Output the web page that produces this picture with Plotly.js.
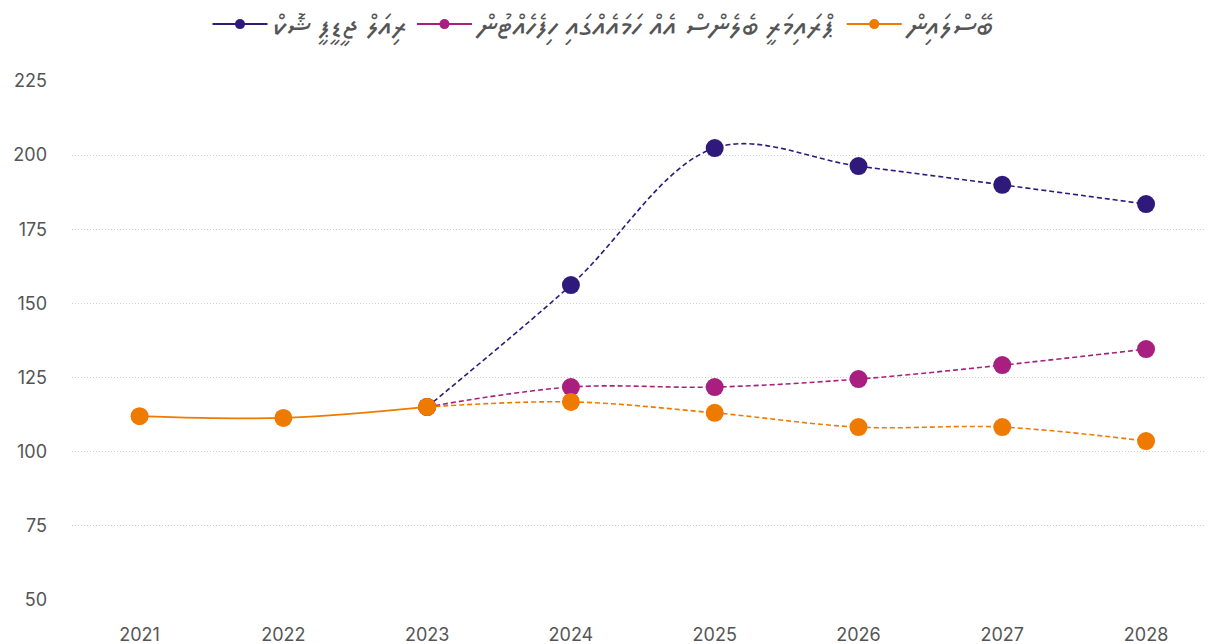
<!DOCTYPE html>
<html>
<head>
<meta charset="utf-8">
<script src="https://cdn.plot.ly/plotly-3.0.1.min.js"></script>
<style>html,body{margin:0;padding:0;background:#fff;}#chart{width:1208px;height:644px;}</style>
</head>
<body>
<div id="chart"></div>
<script>
const years = [2021, 2022, 2023, 2024, 2025, 2026, 2027, 2028];
const histYears = [2021, 2022, 2023];
const projYears = [2023, 2024, 2025, 2026, 2027, 2028];
const baselineHist = [112.0, 111.4, 115.1];
const baselineProj = [115.1, 116.8, 113.1, 108.3, 108.3, 103.6];
const gdpShockProj = [115.1, 156.2, 202.4, 196.3, 190.0, 183.5];
const pbProj = [115.1, 121.8, 121.8, 124.5, 129.2, 134.6];
const names = {
  gdp: "ރިއަލް ޖީޑީޕީ ޝޮކް",
  pb: "ޕްރައިމަރީ ބެލެންސް އެއް ހަމައެއްގައި ހިފެހެއްޓުން",
  base: "ބޭސްލައިން"
};
const colors = {gdp: "#2f1a7c", pb: "#a81f7f", base: "#ee7a00"};

const mk = 18;
const dashStyle = "5px,3px";
const traces = [
  {x: projYears, y: gdpShockProj, name: names.gdp, type: "scatter", mode: "lines+markers",
   line: {color: colors.gdp, width: 1.6, dash: dashStyle, shape: "spline"},
   marker: {size: mk, color: colors.gdp}, showlegend: false},
  {x: projYears, y: pbProj, name: names.pb, type: "scatter", mode: "lines+markers",
   line: {color: colors.pb, width: 1.6, dash: dashStyle, shape: "spline"},
   marker: {size: mk, color: colors.pb}, showlegend: false},
  {x: projYears, y: baselineProj, name: names.base, type: "scatter", mode: "lines+markers",
   line: {color: colors.base, width: 1.6, dash: dashStyle, shape: "spline"},
   marker: {size: mk, color: colors.base}, showlegend: false},
  {x: histYears, y: baselineHist, name: names.base, type: "scatter", mode: "lines+markers",
   line: {color: colors.base, width: 1.8, shape: "spline"},
   marker: {size: mk, color: colors.base}, showlegend: false}
];
// legend-only entries (solid line with small dot, as in the reference legend)
["gdp", "pb", "base"].forEach(function (k) {
  traces.push({x: [null], y: [null], name: names[k], type: "scatter",
    mode: "lines+markers", line: {color: colors[k], width: 2}, marker: {size: 10, color: colors[k]},
    showlegend: true, hoverinfo: "skip"});
});

const layout = {
  width: 1208, height: 644,
  margin: {l: 72, r: 3, t: 81, b: 44},
  paper_bgcolor: "#fff", plot_bgcolor: "#fff",
  font: {family: "Inter, 'Noto Sans', 'DejaVu Sans', sans-serif", color: "#555", size: 18},
  showlegend: true,
  legend: {orientation: "h", x: 0.5, xanchor: "center", xref: "container",
           y: 0.962, yanchor: "middle", yref: "container", itemwidth: 55,
           font: {size: 31, family: "'Noto Sans Thaana', 'DejaVu Sans', 'Noto Sans', sans-serif"},
           traceorder: "normal"},
  xaxis: {range: [2020.53, 2028.41], tickvals: years, ticktext: years.map(String),
          showgrid: false, zeroline: false, showline: false, ticks: "", ticklabelstandoff: 22,
          tickfont: {size: 18, color: "#555"}},
  yaxis: {range: [50, 225], tickvals: [50, 75, 100, 125, 150, 175, 200, 225],
          showgrid: true, gridcolor: "#cfcfcf", griddash: "1px,2px", gridwidth: 1.2,
          zeroline: false, showline: false, ticks: "", ticklabelstandoff: 24,
          tickfont: {size: 18, color: "#555"}},
  hovermode: false
};

Plotly.newPlot("chart", traces, layout, {displayModeBar: false, staticPlot: true});
</script>
</body>
</html>
